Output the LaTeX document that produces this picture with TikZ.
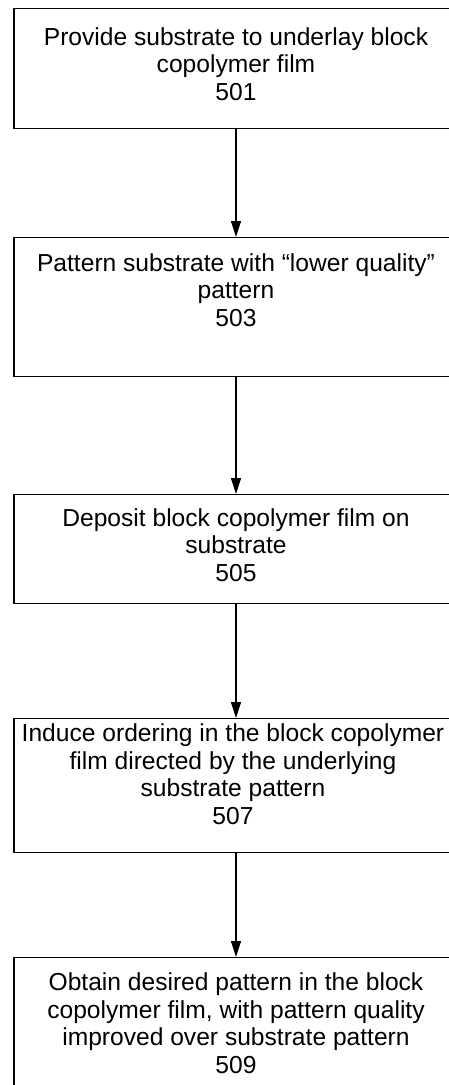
\documentclass[tikz,border=0pt]{standalone}
\usepackage{fontspec}
\setmainfont{Liberation Sans}
\usetikzlibrary{arrows.meta}
\tikzset{
  box/.style={draw, line width=1.2pt, minimum width=444pt, anchor=north, inner sep=0pt},
  txt/.style={align=center, inner sep=0pt, font=\fontsize{24.6}{27.5}\selectfont},
  flow/.style={line width=1.2pt, -{Triangle[length=16pt,width=10pt]}}
}
\begin{document}
\begin{tikzpicture}[x=1pt,y=1pt]
\useasboundingbox (0,0) rectangle (449,-1085);
\clip (0,0) rectangle (449,-1085);
\node[box, minimum height=120pt] (b1) at (236,-8) {};
\node[box, minimum height=139pt] (b2) at (236,-237) {};
\node[box, minimum height=109pt] (b3) at (236,-494) {};
\node[box, minimum height=134pt] (b4) at (236,-718) {};
\node[box, minimum height=170pt] (b5) at (236,-957) {};
\node[txt] (t1) at (236,-64) {Provide substrate to underlay block\\copolymer film\\501};
\node[txt] (t2) at (236,-290) {Pattern substrate with ``lower quality''\\pattern\\503};
\node[txt] (t3) at (236,-545) {Deposit block copolymer film on\\substrate\\505};
\node[txt] (t4) at (233,-774) {Induce ordering in the block copolymer\\film directed by the underlying\\substrate pattern\\507};
\node[txt] (t5) at (236,-1023) {Obtain desired pattern in the block\\copolymer film, with pattern quality\\improved over substrate pattern\\509};
\draw[flow] (b1.south) -- (b2.north);
\draw[flow] (b2.south) -- (b3.north);
\draw[flow] (b3.south) -- (b4.north);
\draw[flow] (b4.south) -- (b5.north);
\end{tikzpicture}
\end{document}
